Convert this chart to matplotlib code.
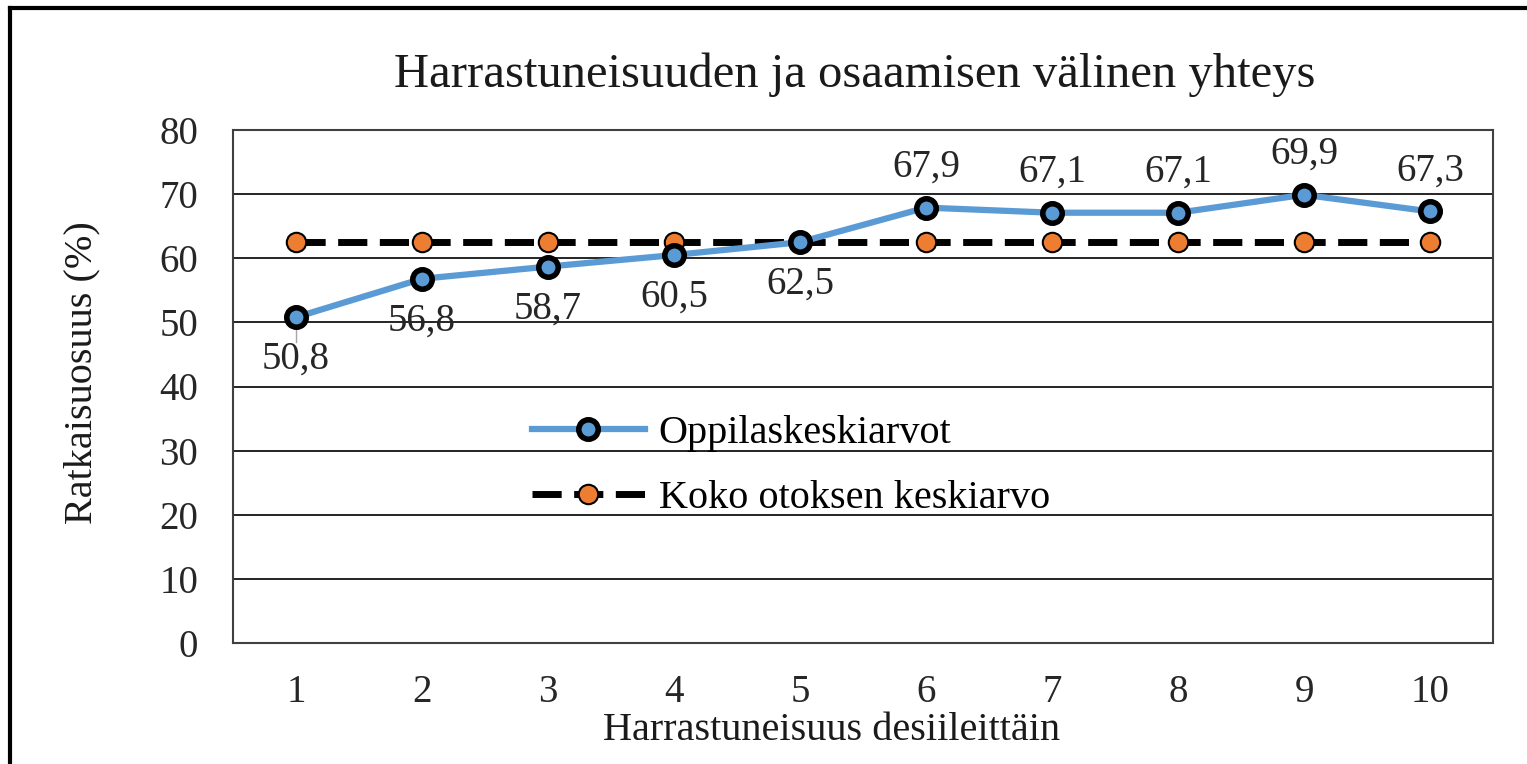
import matplotlib
matplotlib.use("Agg")
import matplotlib.pyplot as plt
from matplotlib.lines import Line2D

categories = ["1", "2", "3", "4", "5", "6", "7", "8", "9", "10"]
oppilas = [50.8, 56.8, 58.7, 60.5, 62.5, 67.9, 67.1, 67.1, 69.9, 67.3]
koko = [62.6] * 10
label_above = [False, False, False, False, False, True, True, True, True, True]

title = "Harrastuneisuuden ja osaamisen välinen yhteys"
xlabel = "Harrastuneisuus desiileittäin"
ylabel = "Ratkaisuosuus (%)"
series_names = ["Oppilaskeskiarvot", "Koko otoksen keskiarvo"]

plt.rcParams['font.family'] = ['Liberation Serif', 'DejaVu Serif']

fig = plt.figure(figsize=(15.27, 7.64), dpi=100)
ax = fig.add_axes([233/1527, 1-643/764, (1493-233)/1527, (643-130)/764])

x = list(range(1, len(categories)+1))
blue = "#5B9BD5"
orange = "#ED7D31"
dash = (0, (4.2, 1.8))

ax.plot(x, koko, color="black", lw=5, linestyle=dash, marker="o",
        markersize=14, markerfacecolor=orange, markeredgecolor="black",
        markeredgewidth=1.5, zorder=3, label=series_names[1])
ax.plot(x, oppilas, color=blue, lw=4.5, marker="o", markersize=14,
        markerfacecolor=blue, markeredgecolor="black", markeredgewidth=4,
        zorder=4, label=series_names[0])

for xi, v, up in zip(x, oppilas, label_above):
    txt = f"{v:.1f}".replace(".", ",")
    if up:
        ax.annotate(txt, (xi, v), xytext=(0, 16), textcoords="offset points",
                    ha="center", va="bottom", fontsize=28, color="#262626")
    else:
        ax.annotate(txt, (xi, v), xytext=(0, -17), textcoords="offset points",
                    ha="center", va="top", fontsize=28, color="#262626")
# small leader line for first label
ax.plot([x[0], x[0]], [oppilas[0] - 1.2, oppilas[0] - 3.8], color="#a6a6a6", lw=1, zorder=2)

ax.set_xlim(0.5, len(categories)+0.5)
ax.set_ylim(0, 80)
ax.set_yticks(range(0, 81, 10))
ax.set_xticks(x)
ax.set_xticklabels(categories)
ax.yaxis.grid(True, color="black", lw=1.2)
ax.set_axisbelow(True)
ax.tick_params(length=0, labelsize=28, colors="#262626")
ax.tick_params(axis="y", pad=25)
ax.tick_params(axis="x", pad=22)
for s in ax.spines.values():
    s.set_color("#404040")
    s.set_linewidth(1.5)

fig.text(855/1527, 1-75/764, title, fontsize=35, color="#1a1a1a",
         ha="center", va="center")
fig.text(832/1527, 1-731/764, xlabel, fontsize=29, color="#1a1a1a",
         ha="center", va="center")
fig.text(82/1527, 1-373/764, ylabel, fontsize=29, color="#1a1a1a",
         ha="center", va="center", rotation=90)

h_blue = Line2D([], [], color=blue, lw=4.5, marker="o", markersize=14,
                markerfacecolor=blue, markeredgecolor="black", markeredgewidth=4)
h_orange = Line2D([], [], color="black", lw=5, linestyle=dash, marker="o",
                  markersize=14, markerfacecolor=orange, markeredgecolor="black",
                  markeredgewidth=1.5)
leg = ax.legend([h_blue, h_orange], series_names, loc="center left",
                bbox_to_anchor=((532-233)/1260, (643-466)/513), frameon=False,
                fontsize=29, handlelength=2.8, labelspacing=0.68,
                handletextpad=0.35, borderpad=0, borderaxespad=0)

# outer frame (left and top edges)
fig.add_artist(Line2D([10/1527, 10/1527], [0, 1-8/764], color="black", lw=3,
                      transform=fig.transFigure))
fig.add_artist(Line2D([10/1527, 1], [1-8/764, 1-8/764], color="black", lw=3,
                      transform=fig.transFigure))

fig.savefig("out.png", dpi=100)
